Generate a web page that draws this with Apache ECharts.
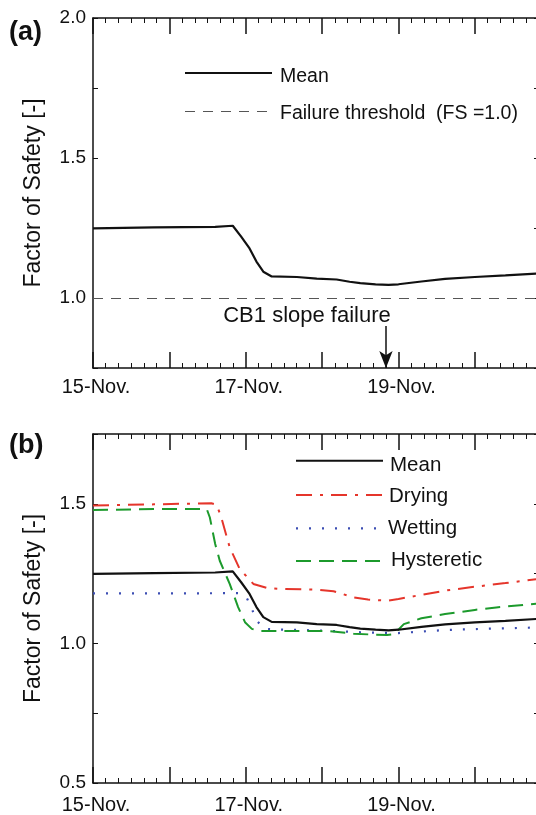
<!DOCTYPE html>
<html>
<head>
<meta charset="utf-8">
<script src="https://cdn.jsdelivr.net/npm/echarts@6/dist/echarts.min.js"></script>
<style>
  html, body { margin: 0; padding: 0; background: #fff; }
  #chart { width: 536px; height: 815px; }
</style>
</head>
<body>
<div id="chart"></div>
<script>
// x values are days after 15-Nov 00:00
const xTickLabels = ["15-Nov.", "17-Nov.", "19-Nov."];
const xMax = 5.84;

const meanDays = [0, 0.8, 1.6, 1.83, 1.94, 2.05, 2.14, 2.23, 2.34, 2.67, 2.93, 3.19, 3.36, 3.5, 3.7, 3.87, 4.0, 4.3, 4.61, 5.0, 5.4, 5.84];
const meanFS = [1.249, 1.252, 1.254, 1.258, 1.219, 1.177, 1.13, 1.094, 1.077, 1.075, 1.069, 1.066, 1.058, 1.053, 1.049, 1.047, 1.049, 1.059, 1.068, 1.075, 1.081, 1.088];

const dryDays = [0, 0.8, 1.55, 1.62, 1.68, 1.79, 1.92, 2.1, 2.27, 2.45, 2.88, 3.15, 3.41, 3.6, 3.85, 4.0, 4.3, 4.61, 5.0, 5.4, 5.84];
const dryFS = [1.494, 1.498, 1.502, 1.496, 1.451, 1.344, 1.267, 1.213, 1.199, 1.195, 1.193, 1.187, 1.165, 1.157, 1.153, 1.159, 1.174, 1.189, 1.203, 1.216, 1.231];

const wetDays = [0, 1.0, 1.92, 2.01, 2.08, 2.14, 2.25, 2.4, 3.0, 3.5, 3.9, 4.0, 4.61, 5.2, 5.84];
const wetFS = [1.179, 1.179, 1.180, 1.165, 1.124, 1.082, 1.052, 1.05, 1.046, 1.040, 1.037, 1.037, 1.048, 1.053, 1.057];

const hysDays = [0, 0.8, 1.49, 1.53, 1.6, 1.66, 1.79, 1.9, 1.99, 2.08, 2.18, 2.67, 3.1, 3.41, 3.7, 3.85, 3.94, 4.07, 4.3, 4.61, 5.0, 5.28, 5.84];
const hysFS = [1.478, 1.481, 1.481, 1.451, 1.356, 1.296, 1.213, 1.13, 1.076, 1.052, 1.044, 1.044, 1.044, 1.035, 1.031, 1.030, 1.033, 1.069, 1.09, 1.105, 1.12, 1.129, 1.143];

const thresholdFS = 1.0;
const failureDay = 3.836;
const arrowTopFS = 0.9;

const FONT = "Liberation Sans, Arial, sans-serif";
const zip = (xs, ys) => xs.map((x, i) => [x, ys[i]]);

const isInt = v => Math.abs(v - Math.round(v)) < 1e-6;

const xAxisFor = (gridIndex, position, withLabels) => ({
  type: "value",
  gridIndex,
  position,
  min: 0,
  max: xMax,
  interval: 1,
  axisLine: { show: true, onZero: false, lineStyle: { color: "#111", width: 1.5 } },
  axisTick: { show: true, inside: true, length: 16, lineStyle: { color: "#111", width: 1.5 } },
  minorTick: { show: true, splitNumber: 6, length: 5, lineStyle: { color: "#111", width: 1 } },
  splitLine: { show: false },
  axisLabel: {
    show: withLabels,
    margin: gridIndex === 0 ? 9 : 12,
    padding: [0, 0, 0, 6],
    fontFamily: FONT,
    fontSize: 20,
    color: "#111",
    formatter: v => (isInt(v) && Math.round(v) % 2 === 0 && v < 5 ? xTickLabels[Math.round(v) / 2] : ""),
  },
});

const yAxisFor = (gridIndex, position, min, max, withLabels) => ({
  type: "value",
  gridIndex,
  position,
  min,
  max,
  interval: 0.25,
  name: withLabels ? "Factor of Safety [-]" : "",
  nameLocation: "middle",
  nameGap: 48,
  nameTextStyle: { fontFamily: FONT, fontSize: 23, color: "#111" },
  axisLine: { show: true, onZero: false, lineStyle: { color: "#111", width: 1.5 } },
  axisTick: { show: true, inside: true, length: 5, lineStyle: { color: "#111", width: 1 } },
  splitLine: { show: false },
  axisLabel: {
    show: withLabels,
    margin: 7,
    fontFamily: FONT,
    fontSize: 19,
    color: "#111",
    formatter: v => (Math.abs(v * 2 - Math.round(v * 2)) < 1e-6 ? v.toFixed(1) : ""),
  },
});

const lineSeries = (name, data, axis, color, width, dash) => ({
  name,
  type: "line",
  xAxisIndex: axis,
  yAxisIndex: axis,
  data,
  showSymbol: false,
  symbol: "none",
  smooth: false,
  lineStyle: { color, width, type: dash },
  z: 3,
});

const RED = "#e5352b";
const BLUE = "#3b4db3";
const GREEN = "#1c9a2c";
const BLACK = "#111";

const legendText = (x, y, text, size) => ({
  type: "text",
  x, y,
  style: { text, fontFamily: FONT, fontSize: size, fill: "#111", verticalAlign: "middle", align: "left" },
});
const legendLine = (x1, x2, y, stroke, width, dash) => ({
  type: "line",
  shape: { x1, y1: y, x2, y2: y },
  style: { stroke, lineWidth: width, lineDash: dash },
});

const option = {
  animation: false,
  backgroundColor: "#fff",
  grid: [
    { left: 93, top: 18, width: 446, height: 350, outerBoundsMode: "none", containLabel: false },
    { left: 93, top: 434, width: 446, height: 349, outerBoundsMode: "none", containLabel: false },
  ],
  xAxis: [
    xAxisFor(0, "bottom", true),
    xAxisFor(0, "top", false),
    xAxisFor(1, "bottom", true),
    xAxisFor(1, "top", false),
  ],
  yAxis: [
    yAxisFor(0, "left", 0.75, 2.0, true),
    yAxisFor(0, "right", 0.75, 2.0, false),
    yAxisFor(1, "left", 0.5, 1.75, true),
    yAxisFor(1, "right", 0.5, 1.75, false),
  ],
  series: [
    // panel (a)
    {
      ...lineSeries("Mean", zip(meanDays, meanFS), 0, BLACK, 2.2, "solid"),
      markLine: {
        silent: true,
        symbol: ["none", "none"],
        label: { show: false },
        lineStyle: { color: "#555", width: 1, type: [10, 8] },
        data: [{ yAxis: thresholdFS }],
      },
    },
    {
      type: "line",
      xAxisIndex: 0,
      yAxisIndex: 0,
      data: [],
      markLine: {
        silent: true,
        symbol: ["none", "arrow"],
        symbolSize: [10, 17],
        label: { show: false },
        lineStyle: { color: "#111", width: 1.5, type: "solid" },
        data: [[{ coord: [failureDay, arrowTopFS] }, { coord: [failureDay, 0.75] }]],
      },
    },
    // panel (b)
    lineSeries("Drying", zip(dryDays, dryFS), 2, RED, 2, [16, 8, 3, 8]),
    lineSeries("Wetting", zip(wetDays, wetFS), 2, BLUE, 2.2, [2, 11]),
    lineSeries("Hysteretic", zip(hysDays, hysFS), 2, GREEN, 2, [15, 8]),
    lineSeries("Mean", zip(meanDays, meanFS), 2, BLACK, 2.2, "solid"),
  ],
  graphic: [
    { type: "text", x: 9, y: 33, style: { text: "(a)", fontFamily: FONT, fontSize: 27, fontWeight: "bold", fill: "#111", verticalAlign: "middle" } },
    { type: "text", x: 9, y: 446, style: { text: "(b)", fontFamily: FONT, fontSize: 27, fontWeight: "bold", fill: "#111", verticalAlign: "middle" } },
    // panel (a) legend
    legendLine(185, 272, 73, BLACK, 2, null),
    legendText(280, 77, "Mean", 19.5),
    legendLine(185, 272, 111.5, "#555", 1, [10, 8]),
    legendText(280, 114, "Failure threshold  (FS =1.0)", 19.5),
    // failure annotation
    { type: "text", x: 307, y: 316, style: { text: "CB1 slope failure", fontFamily: FONT, fontSize: 22, fill: "#111", align: "center", verticalAlign: "middle" } },
    // panel (b) legend
    legendLine(296, 383, 460.7, BLACK, 2, null),
    legendText(390, 465, "Mean", 20.5),
    legendLine(296, 383, 495, RED, 2, [16, 8, 3, 8]),
    legendText(389, 496.5, "Drying", 20.5),
    legendLine(296, 383, 528.3, BLUE, 2.2, [2, 11]),
    legendText(388, 528.8, "Wetting", 20.5),
    legendLine(296, 383, 561, GREEN, 2, [15, 8]),
    legendText(391, 560, "Hysteretic", 20.5),
  ],
};

const chart = echarts.init(document.getElementById("chart"), null, { renderer: "canvas" });
chart.setOption(option);
</script>
</body>
</html>
